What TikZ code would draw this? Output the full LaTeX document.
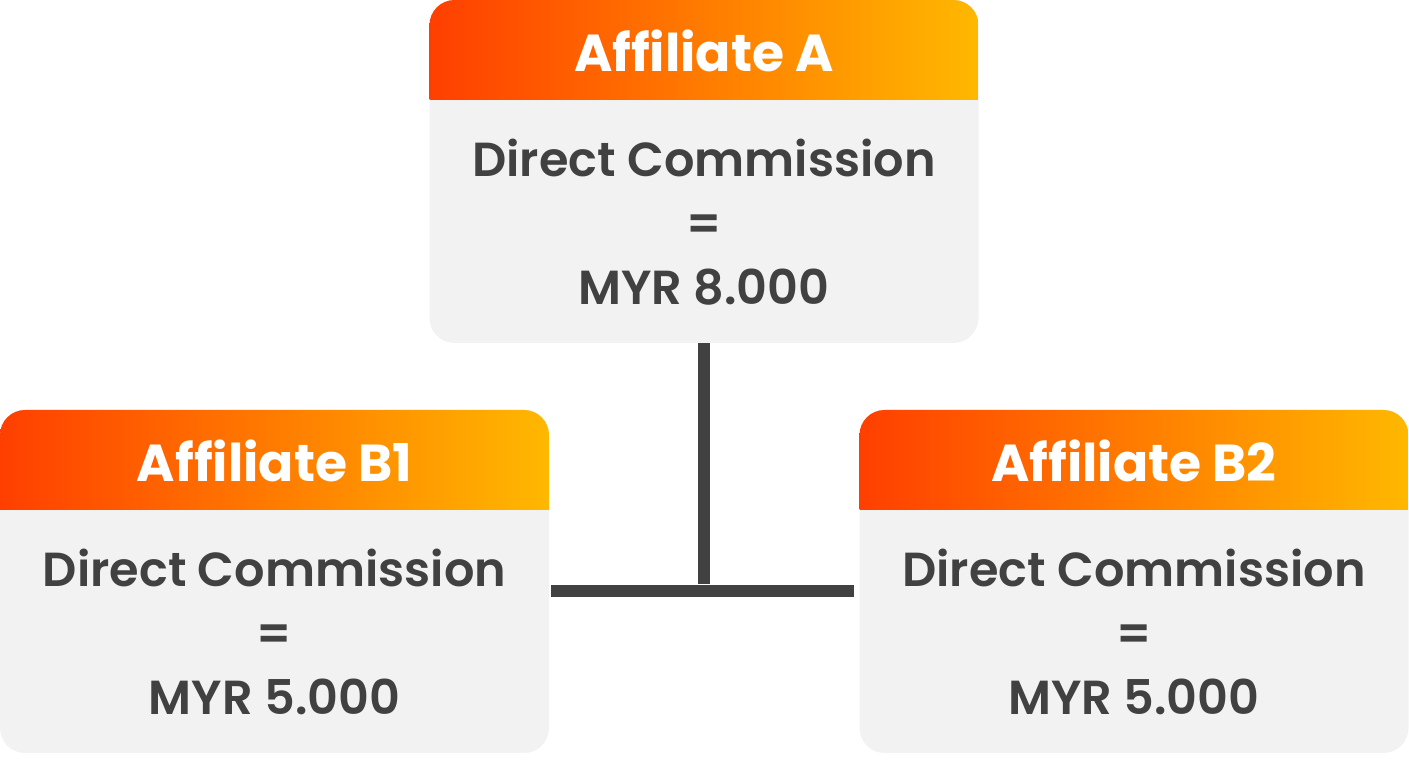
\documentclass[tikz,border=0pt]{standalone}
\usepackage{fontspec}
\usepackage{tikz}
\setmainfont{Poppins}
\newfontfamily\bodyfont{Poppins SemiBold}

\definecolor{hdrred}{HTML}{FF3F00}
\definecolor{hdryellow}{HTML}{FFB800}
\definecolor{cardgrey}{HTML}{F2F2F2}
\definecolor{inkgrey}{HTML}{414141}

\tikzset{
  card/.style={rounded corners=25pt, fill=cardgrey, minimum width=549pt,
    minimum height=343pt, inner sep=0pt,
    path picture={\shade[sharp corners, left color=hdrred, right color=hdryellow]
      ([yshift=-100pt]path picture bounding box.north west)
      rectangle (path picture bounding box.north east);}},
  title/.style={text=white, font=\fontsize{52}{60}\selectfont\bfseries},
  amount/.style={text=inkgrey, align=center,
    font=\fontsize{47.8}{64}\selectfont\bodyfont},
  link/.style={draw=inkgrey, line width=12pt}
}

\begin{document}
\begin{tikzpicture}[x=1pt, y=1pt]
      \useasboundingbox (0,0) rectangle (1409,770);
      \node[card] (A)  at (704, 598.5)  {};
      \node[card] (B1) at (274.5, 188.5) {};
      \node[card] (B2) at (1134, 188.5)  {};
      % headers
      \node[title] (tA)  at ([yshift=-51pt]A.north)  {Affiliate A};
      \node[title] (tB1) at ([yshift=-51pt]B1.north) {Affiliate B1};
      \node[title] (tB2) at ([yshift=-51pt]B2.north) {Affiliate B2};
      % commission values
      \node[amount] (vA)  at ([yshift=-222pt]A.north)  {Direct Commission\\=\\MYR 8.000};
      \node[amount] (vB1) at ([yshift=-222pt]B1.north) {Direct Commission\\=\\MYR 5.000};
      \node[amount] (vB2) at ([yshift=-222pt]B2.north) {Direct Commission\\=\\MYR 5.000};
      % tree link
      \coordinate (join) at ([yshift=-9.5pt]A.south |- B1.east);
      \coordinate (barL) at ([xshift=2pt]B1.east |- join);
      \coordinate (barR) at ([xshift=-5pt]B2.west |- join);
      \draw[link] (A.south) -- ([yshift=7pt]join);
      \draw[link] (barL) -- (barR);
\end{tikzpicture}
\end{document}
